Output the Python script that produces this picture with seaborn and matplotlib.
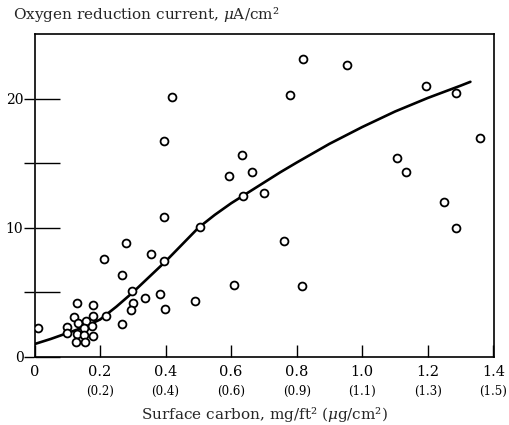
import matplotlib
matplotlib.use("Agg")
import matplotlib.pyplot as plt
import seaborn as sns
import pandas as pd

# ---- data ----
carbon_pts = [0.01, 0.10, 0.10, 0.13, 0.18, 0.12, 0.134, 0.157, 0.18, 0.174,
              0.13, 0.151, 0.151, 0.18, 0.127, 0.154, 0.218, 0.268, 0.213, 0.279,
              0.268, 0.354, 0.299, 0.30, 0.293, 0.337, 0.383, 0.398, 0.396, 0.396,
              0.49, 0.505, 0.594, 0.632, 0.635, 0.608, 0.421, 0.395, 0.664, 0.70,
              0.818, 0.781, 0.761, 0.816, 0.954, 1.193, 1.285, 1.36, 1.107, 1.135,
              1.248, 1.285]
current_pts = [2.27, 2.35, 1.88, 4.2, 4.0, 3.1, 2.6, 2.8, 3.2, 2.4,
               1.8, 2.27, 1.7, 1.6, 1.14, 1.19, 3.2, 2.56, 7.6, 8.8,
               6.36, 8.0, 5.1, 4.16, 3.64, 4.6, 4.9, 3.72, 7.4, 10.8,
               4.3, 10.1, 14.0, 15.6, 12.5, 5.56, 20.1, 16.7, 14.3, 12.7,
               23.1, 20.3, 9.0, 5.5, 22.6, 20.95, 20.4, 16.95, 15.4, 14.3,
               12.0, 9.98]

curve_x = [0.0, 0.05, 0.10, 0.15, 0.20, 0.25, 0.30, 0.35, 0.40, 0.45, 0.50,
           0.55, 0.60, 0.65, 0.70, 0.75, 0.80, 0.90, 1.00, 1.10, 1.20, 1.30, 1.33]
curve_y = [1.0, 1.4, 1.85, 2.3, 2.9, 3.9, 5.0, 6.2, 7.4, 8.7, 10.0,
           11.0, 11.9, 12.7, 13.5, 14.3, 15.05, 16.5, 17.8, 19.0, 20.05, 21.0, 21.3]

x_ticks = [0, 0.2, 0.4, 0.6, 0.8, 1.0, 1.2, 1.4]
x_tick_labels = ["0", "0.2", "0.4", "0.6", "0.8", "1.0", "1.2", "1.4"]
x_metric_labels = ["", "(0.2)", "(0.4)", "(0.6)", "(0.9)", "(1.1)", "(1.3)", "(1.5)"]
y_ticks = [0, 5, 10, 15, 20]
y_tick_labels = ["0", "", "10", "", "20"]

y_title = "Oxygen reduction current, $\\mu$A/cm\u00b2"
x_title = "Surface carbon, mg/ft\u00b2 ($\\mu$g/cm\u00b2)"

# ---- style ----
sns.set_theme(style="ticks")
plt.rcParams["font.family"] = ["DejaVu Serif"]
plt.rcParams["mathtext.fontset"] = "dejavuserif"

W, H = 509, 425
fig = plt.figure(figsize=(W / 100, H / 100), dpi=100)
left, right, bottom, top = 34.5 / W, 494 / W, (H - 357) / H, (H - 34) / H
ax = fig.add_axes([left, bottom, right - left, top - bottom])

pts = pd.DataFrame({"carbon": carbon_pts, "current": current_pts})
crv = pd.DataFrame({"carbon": curve_x, "current": curve_y})

sns.lineplot(data=crv, x="carbon", y="current", ax=ax, color="black",
             linewidth=1.9, sort=True, estimator=None, zorder=2)
sns.scatterplot(data=pts, x="carbon", y="current", ax=ax, s=32,
                facecolor="white", edgecolor="black", linewidth=1.3,
                marker="o", zorder=3)

ax.set_xlim(0, 1.402)
ax.set_ylim(0, 25.0)
ax.set_xlabel("")
ax.set_ylabel("")

for sp in ax.spines.values():
    sp.set_visible(True)
    sp.set_color("black")
    sp.set_linewidth(1.2)

ax.set_xticks(x_ticks)
ax.set_xticklabels(x_tick_labels, fontsize=10.5)
ax.set_yticks(y_ticks)
ax.set_yticklabels(y_tick_labels, fontsize=10)
ax.tick_params(axis="x", direction="in", length=9, width=1.0, pad=6, colors="black")
ax.tick_params(axis="y", direction="in", length=18, width=1.0, pad=8, colors="black")

# short outward stubs of the y ticks
sec = ax.secondary_yaxis("left")
sec.set_yticks(y_ticks)
sec.tick_params(axis="y", direction="out", length=7, width=1.0, labelleft=False, colors="black")
sec.spines["left"].set_visible(False)

for xv, lbl in zip(x_ticks, x_metric_labels):
    if lbl:
        ax.annotate(lbl, xy=(xv, 0), xycoords=("data", "axes fraction"),
                    xytext=(0, -24.5), textcoords="offset points",
                    ha="center", va="center", fontsize=8.5, color="black")

fig.text(13 / W, 1 - 15 / H, y_title, ha="left", va="center", fontsize=11)
fig.text((left + right) / 2, 1 - 415 / H, x_title, ha="center", va="center", fontsize=11)

fig.savefig("out.png", dpi=100)
